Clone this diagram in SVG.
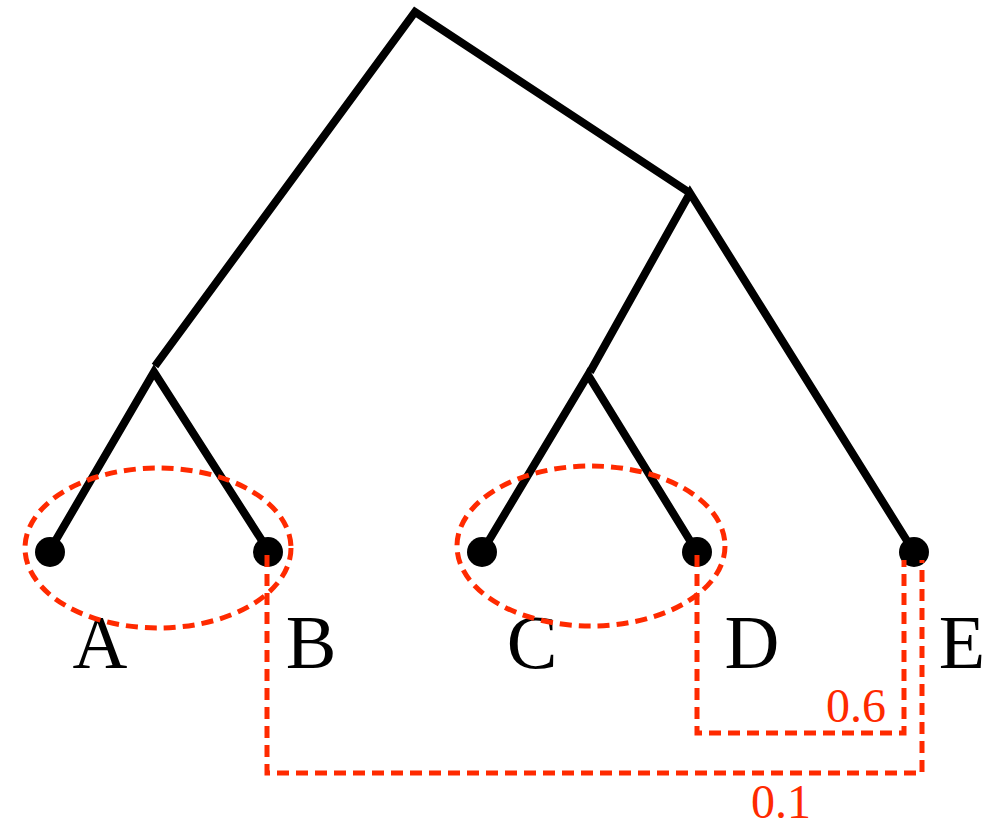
<svg xmlns="http://www.w3.org/2000/svg" width="985" height="830" viewBox="0 0 985 830">
<style>
.br{stroke:#000;stroke-width:8;fill:none;stroke-linecap:butt;stroke-linejoin:miter}
.rd{stroke:#ff2a00;stroke-width:5;fill:none;stroke-dasharray:12 7}
.lbl{font-family:"Liberation Serif",serif;font-size:76px;fill:#000;text-anchor:middle}
.num{font-family:"Liberation Serif",serif;font-size:48px;fill:#ff2a00;text-anchor:middle}
</style>
<rect width="985" height="830" fill="#fff"/>
<g id="connectors">
<polyline class="br" points="155,366 415,12 690,193"/>
<polyline class="br" points="50,550 154,372 268,550"/>
<polyline class="br" points="590,372 690,193 914,552"/>
<polyline class="br" points="482,552 588,375 697,552"/>
</g>
<g id="leaf-A"><circle cx="50" cy="552" r="15"/><text class="lbl" x="100" y="668">A</text></g>
<g id="leaf-B"><circle cx="268" cy="552" r="15"/><text class="lbl" x="311" y="668">B</text></g>
<g id="leaf-C"><circle cx="482" cy="552" r="15"/><text class="lbl" x="532" y="668">C</text></g>
<g id="leaf-D"><circle cx="697" cy="552" r="15"/><text class="lbl" x="752" y="668">D</text></g>
<g id="leaf-E"><circle cx="914" cy="552" r="15"/><text class="lbl" x="962" y="668">E</text></g>
<g id="clusters">
<ellipse class="rd" cx="158" cy="548" rx="133" ry="80"/>
<ellipse class="rd" cx="591" cy="546" rx="134" ry="80"/>
</g>
<g id="distances">
<polyline class="rd" points="267,555 267,773 922,773 922,560"/>
<polyline class="rd" points="697,555 697,733 904,733 904,560"/>
<text class="num" x="856" y="722">0.6</text>
<text class="num" x="781" y="818">0.1</text>
</g>
</svg>
